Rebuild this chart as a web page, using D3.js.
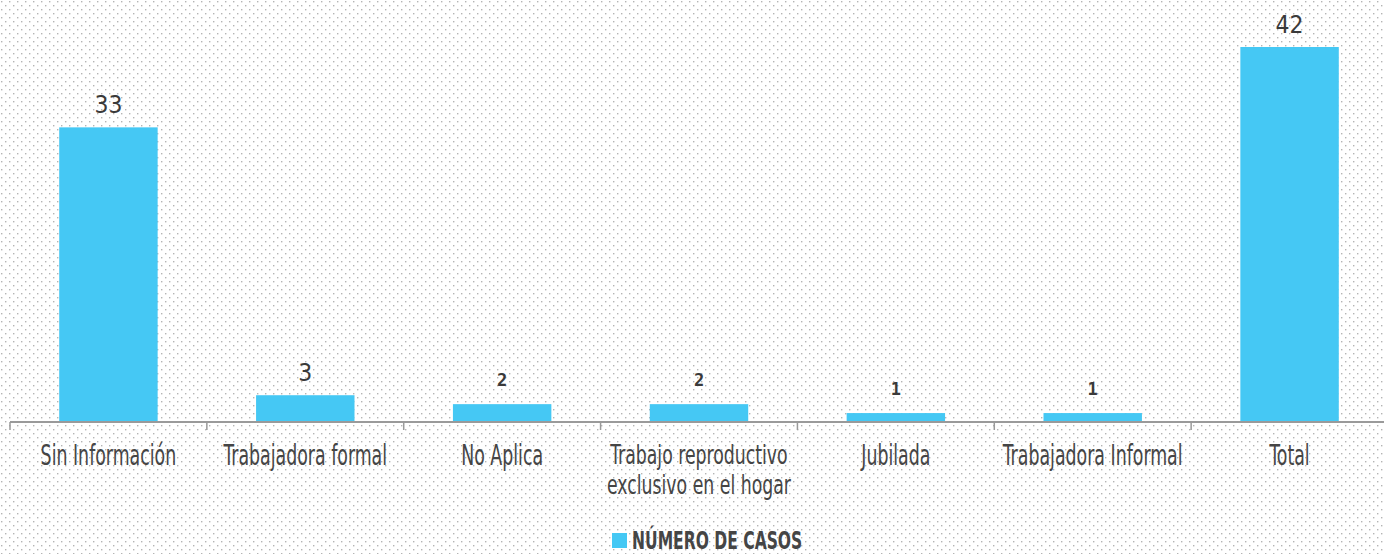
<!DOCTYPE html>
<html>
<head>
<meta charset="utf-8">
<script src="https://cdn.jsdelivr.net/npm/d3@7"></script>
<style>
  body { margin: 0; background: #fff; }
  svg { display: block; }
</style>
</head>
<body>
<svg id="chart"></svg>
<script>
// data
var categories = ["Sin Información", "Trabajadora formal", "No Aplica", "Trabajo reproductivo exclusivo en el hogar", "Jubilada", "Trabajadora Informal", "Total"];
var catLines = [["Sin Información"], ["Trabajadora formal"], ["No Aplica"], ["Trabajo reproductivo", "exclusivo en el hogar"], ["Jubilada"], ["Trabajadora Informal"], ["Total"]];
var casos = [33, 3, 2, 2, 1, 1, 42];
var seriesName = "NÚMERO DE CASOS";

var W = 1384, H = 554;
var svg = d3.select("#chart").attr("width", W).attr("height", H);

// dotted background
var defs = svg.append("defs");
var pat = defs.append("pattern")
    .attr("id", "dots")
    .attr("patternUnits", "userSpaceOnUse")
    .attr("width", 8).attr("height", 8);
pat.append("rect").attr("x", 1).attr("y", 1).attr("width", 1.4).attr("height", 1.4).attr("fill", "#b4b4b4");
pat.append("rect").attr("x", 5).attr("y", 5).attr("width", 1.4).attr("height", 1.4).attr("fill", "#b4b4b4");
svg.append("rect").attr("width", W).attr("height", H).attr("fill", "url(#dots)");

var x = d3.scaleBand()
    .domain(categories)
    .range([10, 1388])
    .paddingInner(0.5)
    .paddingOuter(0.25);

var step = x.step();
var x0 = 10;

var y = d3.scaleLinear()
    .domain([0, 42])
    .range([422, 47]);

// bars
svg.selectAll(".bar")
    .data(casos)
    .enter()
    .append("rect")
    .attr("class", "bar")
    .attr("x", function (d, i) { return x(categories[i]); })
    .attr("width", x.bandwidth())
    .attr("y", function (d) { return y(d); })
    .attr("height", function (d) { return y(0) - y(d); })
    .attr("fill", "#45c8f4");

// axis line + ticks at band boundaries
var axis = svg.append("g");
axis.append("line")
    .attr("x1", x0).attr("x2", W)
    .attr("y1", y(0)).attr("y2", y(0))
    .attr("stroke", "#9a9a9a").attr("stroke-width", 2);
axis.selectAll(".tick")
    .data(d3.range(categories.length + 1))
    .enter()
    .append("line")
    .attr("x1", function (i) { return x0 + i * step; })
    .attr("x2", function (i) { return x0 + i * step; })
    .attr("y1", y(0)).attr("y2", y(0) + 8)
    .attr("stroke", "#9a9a9a").attr("stroke-width", 1.5);

// category labels (condensed by squeezing horizontally)
// two-line labels use a slightly smaller size so the lines don't collide
var condensed = "'DejaVu Sans Condensed', 'DejaVu Sans', sans-serif";
var labels = svg.selectAll(".cat")
    .data(catLines)
    .enter()
    .append("text")
    .attr("class", "cat")
    .attr("text-anchor", "middle")
    .attr("transform", function (d, i) {
      var sx = d.length > 1 ? 0.74 : 0.69;
      return "translate(" + (x(categories[i]) + x.bandwidth() / 2) + ",465) scale(" + sx + ",1)";
    })
    .style("font-family", condensed)
    .style("font-size", function (d) { return d.length > 1 ? "26px" : "28px"; })
    .style("fill", "#454545");
labels.each(function (lines) {
  var t = d3.select(this);
  lines.forEach(function (l, j) {
    t.append("tspan")
      .attr("x", 0)
      .attr("y", j * 30.5 - (lines.length > 1 ? 1 : 0))
      .text(l);
  });
});

// value labels
svg.selectAll(".val")
    .data(casos)
    .enter()
    .append("text")
    .attr("class", "val")
    .attr("text-anchor", "middle")
    .attr("transform", function (d, i) {
      var cx = x(categories[i]) + x.bandwidth() / 2;
      var cy = y(d) - (d < 3 ? 18 : 14);
      return "translate(" + cx + "," + cy + ")" + (d < 3 ? "" : " scale(0.88,1)");
    })
    .style("font-family", function (d) { return d < 3 ? "'DejaVu Sans Mono', monospace" : "'DejaVu Sans', sans-serif"; })
    .style("font-weight", function (d) { return d < 3 ? "bold" : "normal"; })
    .style("font-size", function (d) { return d < 3 ? "17px" : "25px"; })
    .style("fill", "#3a3a3a")
    .text(function (d) { return d; });

// legend
var leg = svg.append("g").attr("transform", "translate(612,533)");
leg.append("rect").attr("width", 15).attr("height", 15).attr("fill", "#45c8f4");
leg.append("text")
    .attr("transform", "translate(20,16) scale(0.72,1)")
    .style("font-family", condensed)
    .style("font-weight", "bold")
    .style("font-size", "24px")
    .style("fill", "#454545")
    .text(seriesName);
</script>
</body>
</html>
